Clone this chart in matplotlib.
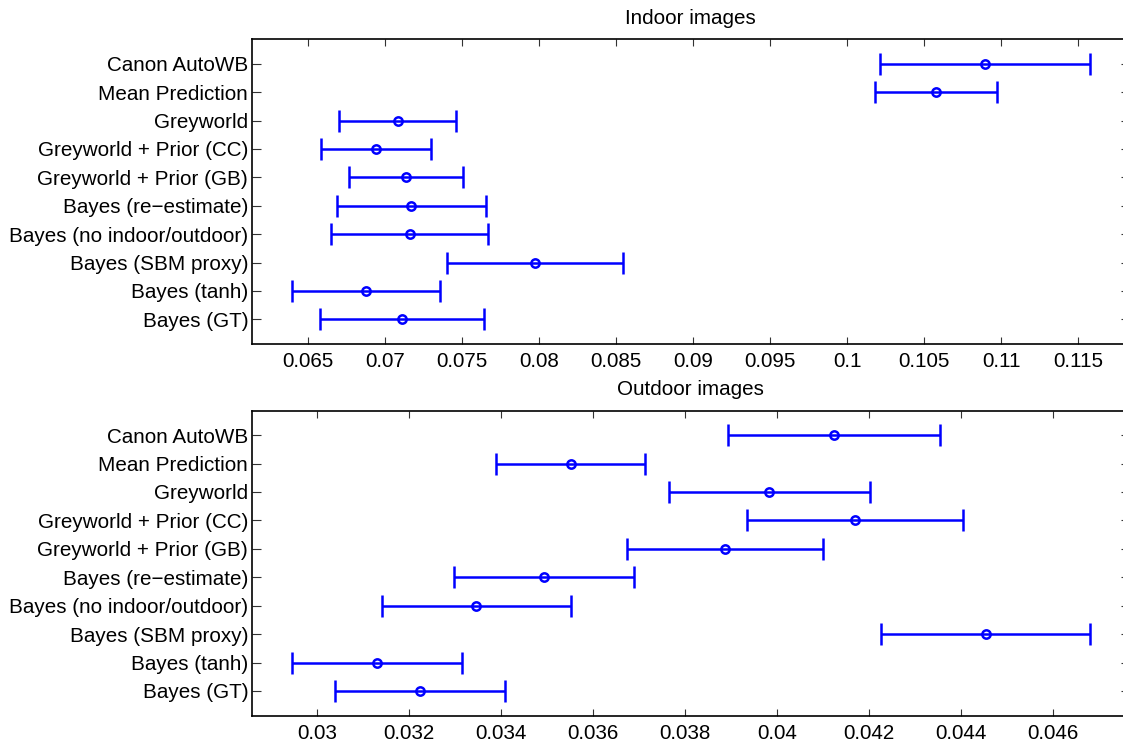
import matplotlib
matplotlib.use("Agg")
import matplotlib.pyplot as plt

plt.rcParams['font.family'] = ['Liberation Sans', 'DejaVu Sans']

methods = ['Canon AutoWB', 'Mean Prediction', 'Greyworld', 'Greyworld + Prior (CC)',
           'Greyworld + Prior (GB)', 'Bayes (re\u2212estimate)', 'Bayes (no indoor/outdoor)',
           'Bayes (SBM proxy)', 'Bayes (tanh)', 'Bayes (GT)']

# indoor: mean and half-width of error bar
indoor_mean = [0.10894, 0.10574, 0.07081, 0.06940, 0.07132, 0.07169, 0.07158, 0.07972, 0.06875, 0.07108]
indoor_err = [0.00682, 0.00395, 0.00380, 0.00357, 0.00370, 0.00485, 0.00511, 0.00570, 0.00482, 0.00533]

# outdoor
outdoor_mean = [0.041239, 0.035509, 0.039826, 0.041689, 0.038863, 0.034928, 0.033457, 0.04453, 0.031291, 0.032226]
outdoor_err = [0.00230, 0.00162, 0.00218, 0.00234, 0.00214, 0.00195, 0.00206, 0.00227, 0.00185, 0.00185]

indoor_ticks = [0.065, 0.07, 0.075, 0.08, 0.085, 0.09, 0.095, 0.1, 0.105, 0.11, 0.115]
outdoor_ticks = [0.03, 0.032, 0.034, 0.036, 0.038, 0.04, 0.042, 0.044, 0.046]

fig = plt.figure(figsize=(11.23, 7.45), dpi=100)
ax1 = fig.add_axes([251.7 / 1123, (745 - 344) / 745, (1129.5 - 251.7) / 1123, (344 - 39.3) / 745])
ax2 = fig.add_axes([251.7 / 1123, (745 - 715.7) / 745, (1129.5 - 251.7) / 1123, (715.7 - 410.7) / 745])

ypos = list(range(1, len(methods) + 1))
fs = 14.9


def draw(ax, means, errs, ticks, xlim, title):
    ax.errorbar(means, ypos, xerr=errs, fmt='o', color='#0000ff', ecolor='#0000ff',
                elinewidth=1.8, capsize=8, capthick=1.8, markersize=6,
                markerfacecolor='none', markeredgewidth=1.8)
    ax.set_xlim(*xlim)
    ax.set_ylim(10.87, 0.14)
    ax.set_yticks(ypos)
    ax.set_yticklabels(methods)
    ax.set_xticks(ticks)
    ax.set_xticklabels(['%g' % t for t in ticks])
    ax.tick_params(axis='both', direction='in', top=True, right=True, labelsize=fs,
                   width=0.8, color='#333333')
    ax.tick_params(axis='x', length=5, pad=6)
    ax.tick_params(axis='y', length=6.7, pad=2.5)
    for s in ax.spines.values():
        s.set_linewidth(1.2)
    ax.set_title(title, fontsize=fs, pad=11)


draw(ax1, indoor_mean, indoor_err, indoor_ticks, (0.06132, 0.118325), 'Indoor images')
draw(ax2, outdoor_mean, outdoor_err, outdoor_ticks, (0.028574, 0.047657), 'Outdoor images')

fig.savefig('out.png', dpi=100)
